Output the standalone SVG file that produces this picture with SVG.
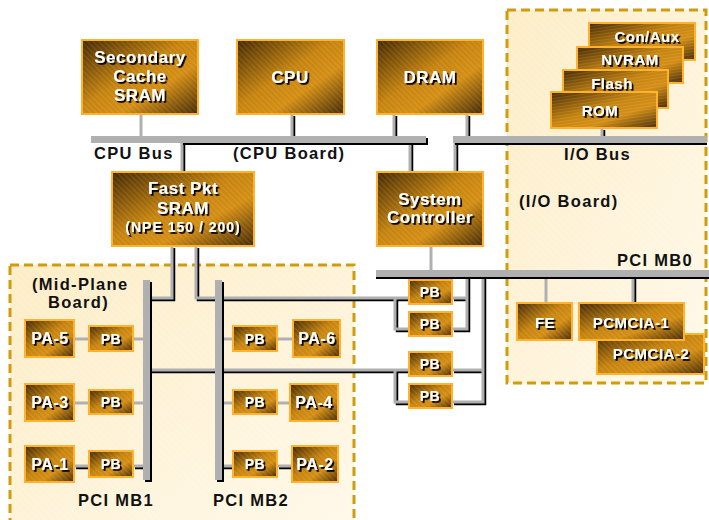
<svg xmlns="http://www.w3.org/2000/svg" xmlns:xlink="http://www.w3.org/1999/xlink" width="709" height="520" viewBox="0 0 709 520">
  <defs>
    <style>
      .box { fill: url(#boxGrad); stroke: #FFB22E; stroke-width: 2; }
      .hatch { fill: url(#diag); stroke: none; }
      .hatchH { fill: url(#horiz); stroke: none; }
      .lbl { font-family: "Liberation Sans", Arial, sans-serif; font-weight: bold; fill: #FFFFFF; text-anchor: middle; filter: url(#ts); letter-spacing: 0.5px; }
      .big { font-size: 17px; }
      .mid { font-size: 16px; }
      .sm { font-size: 14px; }
      .cap { font-family: "Liberation Sans", Arial, sans-serif; font-weight: bold; font-size: 16.5px; fill: #111111; letter-spacing: 1.3px; }
      .region { fill: url(#regionGrad); stroke: #D19B0C; stroke-width: 3; stroke-dasharray: 9 5; }
      .regionHatch { fill: url(#faint); stroke: none; }
      .bar { fill: #B0B0B0; }
      .barShadow { fill: #000000; }
      .wire { fill: none; stroke: #B0B0B0; stroke-width: 3; }
      .wireShadow { fill: none; stroke: #000000; stroke-width: 2.5; }
    </style>
    <linearGradient id="boxGrad" x1="0" y1="0" x2="1" y2="1">
      <stop offset="0" stop-color="#452A04"/>
      <stop offset="0.45" stop-color="#C6840F"/>
      <stop offset="0.66" stop-color="#D48E14"/>
      <stop offset="1" stop-color="#452B05"/>
    </linearGradient>
    <linearGradient id="regionGrad" x1="0" y1="0" x2="1" y2="1">
      <stop offset="0" stop-color="#FDEDC6"/>
      <stop offset="1" stop-color="#FFF9EA"/>
    </linearGradient>
    <pattern id="diag" width="4" height="4" patternUnits="userSpaceOnUse" patternTransform="rotate(-45)">
      <line x1="0" y1="0" x2="0" y2="4" stroke="#FFFFFF" stroke-opacity="0.22" stroke-width="1"/>
    </pattern>
    <pattern id="horiz" width="6" height="3" patternUnits="userSpaceOnUse" patternTransform="rotate(-8)">
      <line x1="0" y1="0" x2="6" y2="0" stroke="#FFFFFF" stroke-opacity="0.2" stroke-width="1"/>
    </pattern>
    <pattern id="faint" width="5" height="5" patternUnits="userSpaceOnUse" patternTransform="rotate(-45)">
      <line x1="0" y1="0" x2="0" y2="5" stroke="#FFFFFF" stroke-opacity="0.35" stroke-width="1"/>
    </pattern>
    <filter id="ts" x="-10%" y="-20%" width="130%" height="150%">
      <feDropShadow dx="1.8" dy="1.8" stdDeviation="0" flood-color="#000000" flood-opacity="1"/>
    </filter>

    <!-- wires drawn with a dark offset shadow -->
    <g id="wiresShadowed">
      <path d="M292,114 V136"/>
      <path d="M394,114 V136"/>
      <path d="M467,114 V136"/>
      <path d="M182,143 V172"/>
      <path d="M410,143 V172"/>
      <path d="M455,143 V172"/>
      <path d="M602,128 V136"/>
      <path d="M633,277 V303"/>
      <path d="M172,246 V298 H150"/>
      <path d="M196,246 V298 H215"/>
      <path d="M222,298 H409"/>
      <path d="M395,298 V329 H409"/>
      <path d="M150,370 H409"/>
      <path d="M395,370 V402 H409"/>
      <path d="M452,298 H467"/>
      <path d="M452,329 H467 V277"/>
      <path d="M452,370 H483"/>
      <path d="M452,402 H483 V277"/>
      <path d="M74,466 H89"/>
      <path d="M133,466 H143"/>
      <path d="M222,466 H233"/>
      <path d="M277,466 H292"/>
    </g>
    <!-- plain grey wires -->
    <g id="wiresPlain">
      <path d="M141,114 V136"/>
      <path d="M431,246 V270"/>
      <path d="M546,277 V303"/>
      <path d="M74,339 H89"/>
      <path d="M133,339 H143"/>
      <path d="M222,339 H233"/>
      <path d="M277,339 H293"/>
      <path d="M74,403 H89"/>
      <path d="M133,403 H143"/>
      <path d="M222,403 H233"/>
      <path d="M277,403 H290"/>
    </g>
  </defs>

  <rect width="709" height="520" fill="#FFFFFF"/>

  <!-- board outlines -->
  <g id="io-board">
    <rect class="region" x="507" y="10" width="199" height="373"/>
    <rect class="regionHatch" x="509" y="12" width="195" height="369"/>
    <text class="cap" x="519" y="207">(I/O Board)</text>
  </g>
  <g id="mid-plane-board">
    <rect class="region" x="10" y="265" width="344" height="270"/>
    <rect class="regionHatch" x="12" y="267" width="340" height="253"/>
    <text class="cap" x="32" y="290">(Mid-Plane</text>
    <text class="cap" x="48" y="308">Board)</text>
  </g>
  <text class="cap" x="233" y="159">(CPU Board)</text>

  <!-- connectors -->
  <g id="connectors">
    <use xlink:href="#wiresShadowed" class="wireShadow" transform="translate(2,2)"/>
    <use xlink:href="#wiresShadowed" class="wire"/>
    <use xlink:href="#wiresPlain" class="wire"/>
  </g>

  <!-- buses -->
  <g id="cpu-bus">
    <rect class="barShadow" x="183" y="138" width="245" height="7"/>
    <rect class="bar" x="91" y="136" width="335" height="7"/>
    <text class="cap" x="94" y="159">CPU Bus</text>
  </g>
  <g id="io-bus">
    <rect class="barShadow" x="455" y="138" width="252" height="7"/>
    <rect class="bar" x="453" y="136" width="254" height="7"/>
    <text class="cap" x="564" y="160">I/O Bus</text>
  </g>
  <g id="pci-mb0">
    <rect class="barShadow" x="376" y="272" width="333" height="7"/>
    <rect class="bar" x="376" y="270" width="333" height="7"/>
    <text class="cap" x="617" y="266">PCI MB0</text>
  </g>
  <g id="pci-mb1">
    <rect class="barShadow" x="145" y="282" width="7" height="200"/>
    <rect class="bar" x="143" y="280" width="7" height="200"/>
    <text class="cap" x="78" y="506">PCI MB1</text>
  </g>
  <g id="pci-mb2">
    <rect class="barShadow" x="217" y="282" width="7" height="200"/>
    <rect class="bar" x="215" y="280" width="7" height="200"/>
    <text class="cap" x="213" y="506">PCI MB2</text>
  </g>

  <!-- CPU board -->
  <g id="secondary-cache">
    <rect class="box" x="82" y="40" width="116" height="74"/>
    <rect class="hatch" x="83" y="41" width="114" height="72"/>
    <text class="lbl big" x="140" y="63">Secondary</text>
    <text class="lbl big" x="140" y="82">Cache</text>
    <text class="lbl big" x="140" y="101">SRAM</text>
  </g>
  <g id="cpu">
    <rect class="box" x="237" y="40" width="107" height="74"/>
    <rect class="hatch" x="238" y="41" width="105" height="72"/>
    <text class="lbl big" x="290" y="83">CPU</text>
  </g>
  <g id="dram">
    <rect class="box" x="377" y="40" width="106" height="74"/>
    <rect class="hatch" x="378" y="41" width="104" height="72"/>
    <text class="lbl big" x="430" y="83">DRAM</text>
  </g>
  <g id="fast-pkt-sram">
    <rect class="box" x="112" y="172" width="142" height="74"/>
    <rect class="hatch" x="113" y="173" width="140" height="72"/>
    <text class="lbl big" x="183" y="194">Fast Pkt</text>
    <text class="lbl big" x="183" y="214">SRAM</text>
    <text class="lbl sm" x="183" y="232" style="letter-spacing:1px">(NPE 150 / 200)</text>
  </g>
  <g id="system-controller">
    <rect class="box" x="377" y="172" width="106" height="74"/>
    <rect class="hatch" x="378" y="173" width="104" height="72"/>
    <text class="lbl big" x="430" y="205">System</text>
    <text class="lbl big" x="430" y="223">Controller</text>
  </g>

  <!-- I/O board -->
  <g id="con-aux">
    <rect class="box" x="589" y="23" width="106" height="37"/>
    <rect class="hatchH" x="590" y="24" width="104" height="35"/>
    <text class="lbl mid" x="647" y="42" style="font-size:15px">Con/Aux</text>
  </g>
  <g id="nvram">
    <rect class="box" x="577" y="47" width="106" height="36"/>
    <rect class="hatchH" x="578" y="48" width="104" height="34"/>
    <text class="lbl mid" x="630" y="65" style="font-size:15px">NVRAM</text>
  </g>
  <g id="flash">
    <rect class="box" x="563" y="70" width="105" height="38"/>
    <rect class="hatchH" x="564" y="71" width="103" height="36"/>
    <text class="lbl mid" x="612" y="89" style="font-size:15px">Flash</text>
  </g>
  <g id="rom">
    <rect class="box" x="551" y="92" width="106" height="36"/>
    <rect class="hatchH" x="552" y="93" width="104" height="34"/>
    <text class="lbl mid" x="600" y="116" style="font-size:15px">ROM</text>
  </g>
  <g id="fe">
    <rect class="box" x="517" y="303" width="55" height="37"/>
    <rect class="hatch" x="518" y="304" width="53" height="35"/>
    <text class="lbl mid" x="545" y="328" style="font-size:15px">FE</text>
  </g>
  <g id="pcmcia-2">
    <rect class="box" x="597" y="334" width="107" height="40"/>
    <rect class="hatch" x="598" y="335" width="105" height="38"/>
    <text class="lbl mid" x="651" y="359" style="font-size:15px">PCMCIA-2</text>
  </g>
  <g id="pcmcia-1">
    <rect class="box" x="579" y="303" width="105" height="37"/>
    <rect class="hatch" x="580" y="304" width="103" height="35"/>
    <text class="lbl mid" x="631" y="328" style="font-size:15px">PCMCIA-1</text>
  </g>

  <!-- port bridges towards PCI MB0 -->
  <g id="pb-mb0-1">
    <rect class="box" x="409" y="280" width="43" height="24"/>
    <rect class="hatch" x="410" y="281" width="41" height="22"/>
    <text class="lbl sm" x="430" y="297">PB</text>
  </g>
  <g id="pb-mb0-2">
    <rect class="box" x="409" y="312" width="43" height="24"/>
    <rect class="hatch" x="410" y="313" width="41" height="22"/>
    <text class="lbl sm" x="430" y="329">PB</text>
  </g>
  <g id="pb-mb0-3">
    <rect class="box" x="409" y="352" width="43" height="24"/>
    <rect class="hatch" x="410" y="353" width="41" height="22"/>
    <text class="lbl sm" x="430" y="369">PB</text>
  </g>
  <g id="pb-mb0-4">
    <rect class="box" x="409" y="384" width="43" height="24"/>
    <rect class="hatch" x="410" y="385" width="41" height="22"/>
    <text class="lbl sm" x="430" y="401">PB</text>
  </g>

  <!-- mid-plane port adapters and bridges -->
  <g id="pa-5">
    <rect class="box" x="25" y="320" width="49" height="37"/>
    <rect class="hatch" x="26" y="321" width="47" height="35"/>
    <text class="lbl mid" x="50" y="344">PA-5</text>
  </g>
  <g id="pb-pa-5">
    <rect class="box" x="89" y="326" width="44" height="25"/>
    <rect class="hatch" x="90" y="327" width="42" height="23"/>
    <text class="lbl sm" x="111" y="344">PB</text>
  </g>
  <g id="pa-3">
    <rect class="box" x="25" y="384" width="49" height="37"/>
    <rect class="hatch" x="26" y="385" width="47" height="35"/>
    <text class="lbl mid" x="50" y="408">PA-3</text>
  </g>
  <g id="pb-pa-3">
    <rect class="box" x="89" y="390" width="44" height="24"/>
    <rect class="hatch" x="90" y="391" width="42" height="22"/>
    <text class="lbl sm" x="111" y="407">PB</text>
  </g>
  <g id="pa-1">
    <rect class="box" x="25" y="446" width="49" height="36"/>
    <rect class="hatch" x="26" y="447" width="47" height="34"/>
    <text class="lbl mid" x="50" y="470">PA-1</text>
  </g>
  <g id="pb-pa-1">
    <rect class="box" x="89" y="451" width="44" height="26"/>
    <rect class="hatch" x="90" y="452" width="42" height="24"/>
    <text class="lbl sm" x="111" y="469">PB</text>
  </g>
  <g id="pb-pa-6">
    <rect class="box" x="233" y="326" width="44" height="25"/>
    <rect class="hatch" x="234" y="327" width="42" height="23"/>
    <text class="lbl sm" x="255" y="344">PB</text>
  </g>
  <g id="pa-6">
    <rect class="box" x="293" y="320" width="47" height="37"/>
    <rect class="hatch" x="294" y="321" width="45" height="35"/>
    <text class="lbl mid" x="317" y="344">PA-6</text>
  </g>
  <g id="pb-pa-4">
    <rect class="box" x="233" y="390" width="44" height="24"/>
    <rect class="hatch" x="234" y="391" width="42" height="22"/>
    <text class="lbl sm" x="255" y="407">PB</text>
  </g>
  <g id="pa-4">
    <rect class="box" x="290" y="384" width="48" height="37"/>
    <rect class="hatch" x="291" y="385" width="46" height="35"/>
    <text class="lbl mid" x="314" y="408">PA-4</text>
  </g>
  <g id="pb-pa-2">
    <rect class="box" x="233" y="451" width="44" height="26"/>
    <rect class="hatch" x="234" y="452" width="42" height="24"/>
    <text class="lbl sm" x="255" y="469">PB</text>
  </g>
  <g id="pa-2">
    <rect class="box" x="292" y="446" width="46" height="36"/>
    <rect class="hatch" x="293" y="447" width="44" height="34"/>
    <text class="lbl mid" x="315" y="470">PA-2</text>
  </g>
</svg>
